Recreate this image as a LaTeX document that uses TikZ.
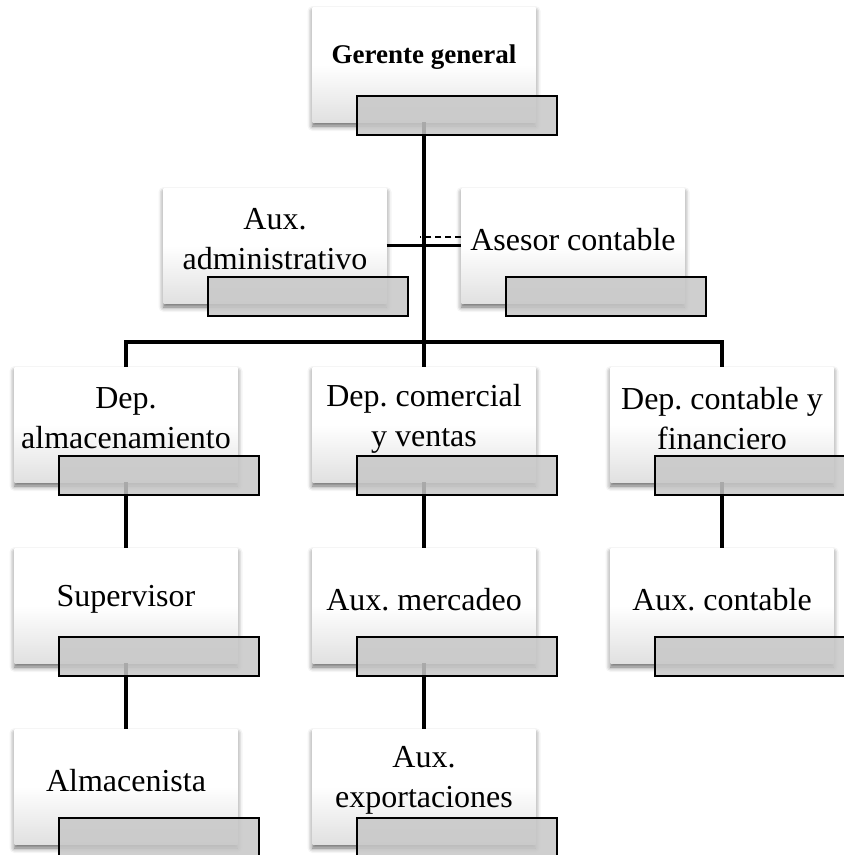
\documentclass[tikz,border=0pt]{standalone}
\usepackage{fontspec}
\setmainfont{Liberation Serif}
\usetikzlibrary{shadows.blur}
\frenchspacing

\begin{document}
\begin{tikzpicture}[x=1pt,y=1pt,node distance=181pt,
    caja/.style={rectangle,minimum width=223pt,minimum height=115pt,
      top color=white,bottom color=black!12,middle color=white,
      blur shadow={shadow xshift=0pt,shadow yshift=-4pt,shadow blur radius=5pt,shadow opacity=60}},
    rotulo/.style={align=center,yshift=6pt,font=\fontsize{32}{40}\selectfont},
    gris/.style={rectangle,draw,line width=1.3pt,fill=black!22,fill opacity=0.85,
      minimum width=200pt,minimum height=39pt,xshift=33pt,yshift=-51pt},
    linea/.style={line width=3.2pt}]

\useasboundingbox (0,0) rectangle (844,-855);

\node[caja,label={[rotulo,yshift=1pt,font=\fontsize{27}{32}\selectfont\bfseries]center:Gerente general}] (gg) at (424,-64.5) {};
\node[caja,label={[rotulo]center:{Aux.\\administrativo}}] (aa) [below of=gg,xshift=-149pt] {};
\node[caja,label={[rotulo]center:Asesor contable}] (ase) [below of=gg,xshift=149pt] {};
\node[caja,label={[rotulo]center:{Dep. comercial\\y ventas}}] (dc) [below of=gg,node distance=360pt] {};
\node[caja,label={[rotulo]center:{Dep.\\almacenamiento}}] (da) [left of=dc,node distance=298pt] {};
\node[caja,label={[rotulo]center:{Dep. contable y\\financiero}}] (df) [right of=dc,node distance=298pt] {};
\node[caja,label={[rotulo]center:Supervisor}] (sup) [below of=da] {};
\node[caja,label={[rotulo]center:Aux. mercadeo}] (am) [below of=dc] {};
\node[caja,label={[rotulo]center:Aux. contable}] (ac) [below of=df] {};
\node[caja,label={[rotulo]center:Almacenista}] (al) [below of=sup] {};
\node[caja,label={[rotulo]center:{Aux.\\exportaciones}}] (ae) [below of=am] {};

\coordinate (bus) at (424,-342);
\coordinate (asd) at ([yshift=9pt]ase.west);

\draw[linea] (gg.south) -- (dc.north);
\draw[linea] (da.north) |- (bus) -| (df.north);
\draw[linea] (aa.east) -- (ase.west);
\draw[line width=2pt,dash pattern=on 6pt off 4pt] (asd) -- ([xshift=-4pt]asd -| gg);
\draw[linea] (da.south) -- (sup.north);
\draw[linea] (sup.south) -- (al.north);
\draw[linea] (dc.south) -- (am.north);
\draw[linea] (am.south) -- (ae.north);
\draw[linea] (df.south) -- (ac.north);

\foreach \n in {gg,aa,ase,da,dc,df,sup,am,ac,al,ae}
  \node[gris] (\n-g) at (\n) {};

\end{tikzpicture}
\end{document}
